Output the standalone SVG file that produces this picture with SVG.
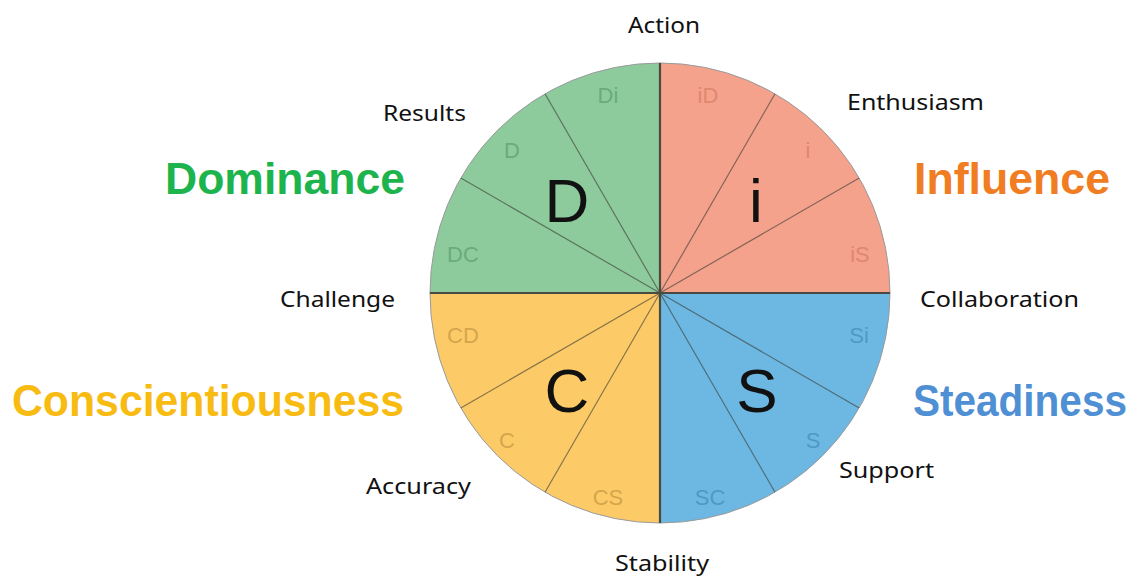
<svg xmlns="http://www.w3.org/2000/svg" width="1144" height="578" viewBox="0 0 1144 578">
<style>
.outer{font-family:"Noto Sans","Open Sans","Liberation Sans",sans-serif;font-size:21px;fill:#111}
.big{font-family:"Liberation Sans",Arial,sans-serif;font-weight:bold;font-size:44px}
.letter{font-family:"Liberation Sans",Arial,sans-serif;font-size:62px;fill:#111;text-anchor:middle}
.sub{font-family:"Liberation Sans",Arial,sans-serif;font-size:22px;text-anchor:middle}
.div{stroke:#3a3a32;stroke-width:1.2;stroke-opacity:0.6;fill:none}
.axis{stroke:#4a4a40;stroke-width:2.2;fill:none}
</style>
<rect width="1144" height="578" fill="#ffffff"/>
<g id="quadrant-i">
<path d="M660,293 L660,63 A230,230 0 0 1 890,293 Z" fill="#f4a28c"/>
</g>
<g id="quadrant-S">
<path d="M660,293 L890,293 A230,230 0 0 1 660,523 Z" fill="#6cb8e2"/>
</g>
<g id="quadrant-C">
<path d="M660,293 L660,523 A230,230 0 0 1 430,293 Z" fill="#fccb68"/>
</g>
<g id="quadrant-D">
<path d="M660,293 L430,293 A230,230 0 0 1 660,63 Z" fill="#8dcb9c"/>
</g>
<circle cx="660" cy="293" r="230" fill="none" stroke="#9a9a9a" stroke-width="1"/>
<g id="connectors">
<line class="div" x1="660" y1="293" x2="775" y2="93.81"/>
<line class="div" x1="660" y1="293" x2="859.19" y2="178"/>
<line class="div" x1="660" y1="293" x2="859.19" y2="408"/>
<line class="div" x1="660" y1="293" x2="775" y2="492.19"/>
<line class="div" x1="660" y1="293" x2="545" y2="492.19"/>
<line class="div" x1="660" y1="293" x2="460.81" y2="408"/>
<line class="div" x1="660" y1="293" x2="460.81" y2="178"/>
<line class="div" x1="660" y1="293" x2="545" y2="93.81"/>
<line class="axis" x1="660" y1="63" x2="660" y2="523"/>
<line class="axis" x1="430" y1="293" x2="890" y2="293"/>
</g>
<g id="letters">
<text class="letter" x="567" y="222">D</text>
<text class="letter" x="756" y="222">i</text>
<text class="letter" x="567" y="412">C</text>
<text class="letter" x="757" y="412">S</text>
</g>
<g id="sub-labels">
<text class="sub" x="608" y="103" fill="#6aab7b">Di</text>
<text class="sub" x="512" y="158" fill="#6aab7b">D</text>
<text class="sub" x="463" y="262" fill="#6aab7b">DC</text>
<text class="sub" x="708" y="103" fill="#e0876f">iD</text>
<text class="sub" x="808" y="158" fill="#e0876f">i</text>
<text class="sub" x="860" y="262" fill="#e0876f">iS</text>
<text class="sub" x="859" y="343" fill="#4f98c6">Si</text>
<text class="sub" x="813" y="448" fill="#4f98c6">S</text>
<text class="sub" x="710" y="505" fill="#4f98c6">SC</text>
<text class="sub" x="608" y="505" fill="#d4a64c">CS</text>
<text class="sub" x="507" y="448" fill="#d4a64c">C</text>
<text class="sub" x="463" y="343" fill="#d4a64c">CD</text>
</g>
<g id="outer-labels">
<text class="outer" x="628" y="33" textLength="72" lengthAdjust="spacingAndGlyphs">Action</text>
<text class="outer" x="383" y="121" textLength="83" lengthAdjust="spacingAndGlyphs">Results</text>
<text class="outer" x="847" y="110" textLength="137" lengthAdjust="spacingAndGlyphs">Enthusiasm</text>
<text class="outer" x="280" y="307" textLength="115" lengthAdjust="spacingAndGlyphs">Challenge</text>
<text class="outer" x="920" y="307" textLength="159" lengthAdjust="spacingAndGlyphs">Collaboration</text>
<text class="outer" x="366" y="494" textLength="105" lengthAdjust="spacingAndGlyphs">Accuracy</text>
<text class="outer" x="839" y="478" textLength="95" lengthAdjust="spacingAndGlyphs">Support</text>
<text class="outer" x="615" y="571" textLength="94" lengthAdjust="spacingAndGlyphs">Stability</text>
</g>
<g id="dominance"><text class="big" x="165" y="194" fill="#1db44e" textLength="240" lengthAdjust="spacingAndGlyphs">Dominance</text></g>
<g id="influence"><text class="big" x="914" y="194" fill="#f07d22" textLength="196" lengthAdjust="spacingAndGlyphs">Influence</text></g>
<g id="conscientiousness"><text class="big" x="12" y="416" fill="#f7bb12" textLength="392" lengthAdjust="spacingAndGlyphs">Conscientiousness</text></g>
<g id="steadiness"><text class="big" x="913" y="416" fill="#4f8fd4" textLength="214" lengthAdjust="spacingAndGlyphs">Steadiness</text></g>
</svg>
